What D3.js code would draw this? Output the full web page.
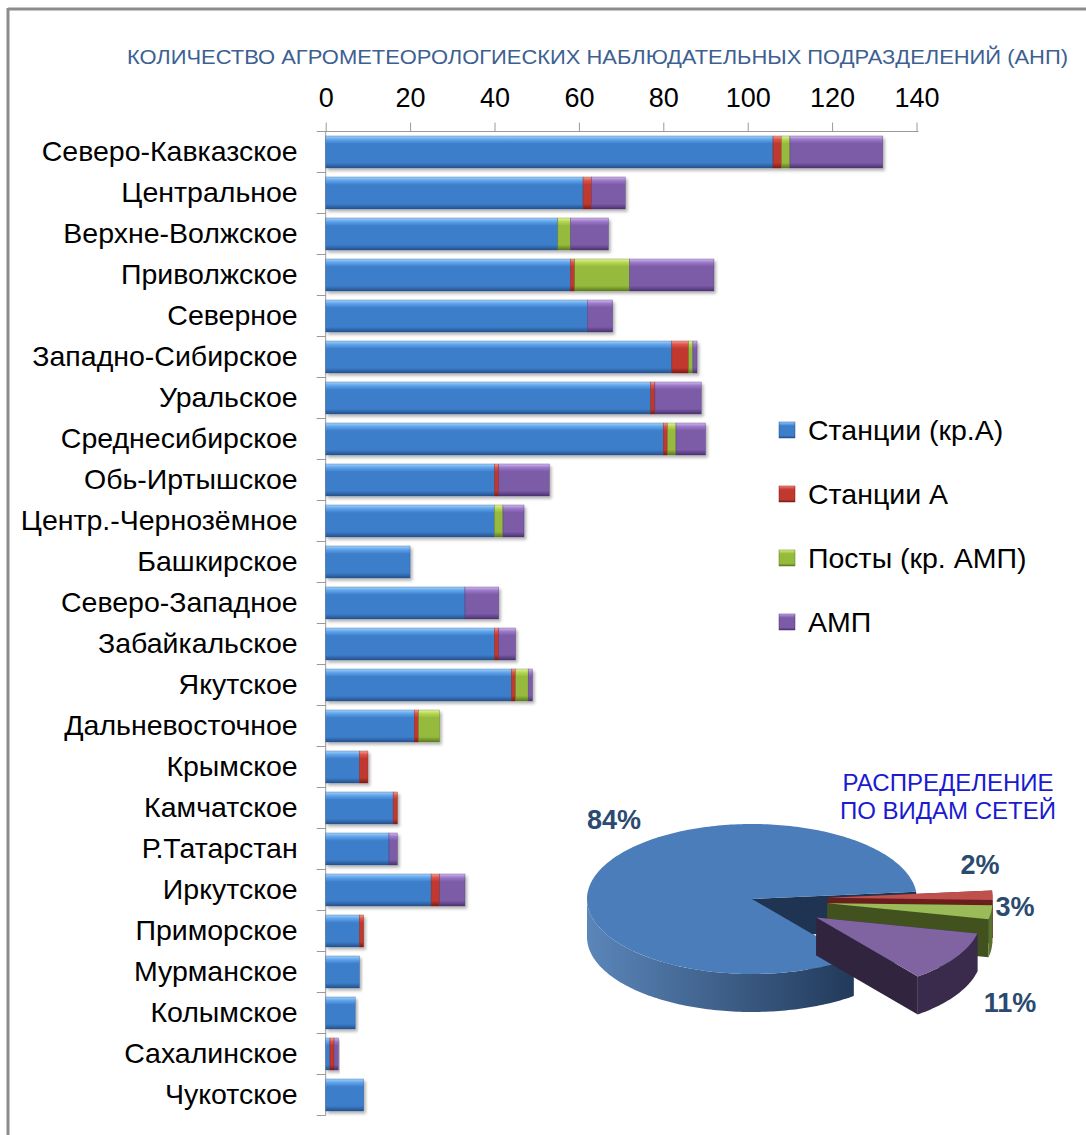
<!DOCTYPE html>
<html lang="ru">
<head>
<meta charset="UTF-8" />
<script src="https://d3js.org/d3.v7.min.js"></script>
<style>
  body { margin: 0; background: #fff; }
  svg { display: block; }
  text { font-family: "Liberation Sans", Arial, sans-serif; }
</style>
</head>
<body>
<div id="chart"></div>
<script>
// categories and series (number of observation units)
const categories = [
  "Северо-Кавказское", "Центральное", "Верхне-Волжское", "Приволжское",
  "Северное", "Западно-Сибирское", "Уральское", "Среднесибирское",
  "Обь-Иртышское", "Центр.-Чернозёмное", "Башкирское", "Северо-Западное",
  "Забайкальское", "Якутское", "Дальневосточное", "Крымское",
  "Камчатское", "Р.Татарстан", "Иркутское", "Приморское",
  "Мурманское", "Колымское", "Сахалинское", "Чукотское"
];
const stationsKr = [106, 61, 55, 58, 62, 82, 77, 80, 40, 40, 20, 33, 40, 44, 21, 8, 16, 15, 25, 8, 8, 7, 1, 9];
const stationsA  = [2, 2, 0, 1, 0, 4, 1, 1, 1, 0, 0, 0, 1, 1, 1, 2, 1, 0, 2, 1, 0, 0, 1, 0];
const posts      = [2, 0, 3, 13, 0, 1, 0, 2, 0, 2, 0, 0, 0, 3, 5, 0, 0, 0, 0, 0, 0, 0, 0, 0];
const amp        = [22, 8, 9, 20, 6, 1, 11, 7, 12, 5, 0, 8, 4, 1, 0, 0, 0, 2, 6, 0, 0, 0, 1, 0];

const seriesNames = ["Станции (кр.А)", "Станции А", "Посты (кр. АМП)", "АМП"];
const xTicks = [0, 20, 40, 60, 80, 100, 120, 140];

const pieLabels = ["84%", "2%", "3%", "11%"];
const pieValues = [84, 2, 3, 11];

const W = 1086, H = 1135;
const svg = d3.select("#chart").append("svg").attr("width", W).attr("height", H);
svg.append("rect").attr("width", W).attr("height", H).attr("fill", "#fff");

// frame
svg.append("line").attr("x1", 8).attr("x2", W).attr("y1", 9).attr("y2", 9)
  .attr("stroke", "#8c8c8c").attr("stroke-width", 3);
svg.append("line").attr("x1", 8).attr("x2", 8).attr("y1", 8).attr("y2", H)
  .attr("stroke", "#8c8c8c").attr("stroke-width", 3);

const defs = svg.append("defs");
const palette = [
  { light: "#a6d4fb", hl: "#64a8ee", main: "#3d7ecb", dark: "#24508a" },
  { light: "#f7a49a", hl: "#e2574e", main: "#c1382f", dark: "#7b1c17" },
  { light: "#e6f5a4", hl: "#b9d957", main: "#95ba3c", dark: "#5b7820" },
  { light: "#d6bcf3", hl: "#9d7ccb", main: "#7c5ba7", dark: "#4a326f" }
];
palette.forEach((c, i) => {
  const g = defs.append("linearGradient").attr("id", "bar" + i)
    .attr("x1", 0).attr("x2", 0).attr("y1", 0).attr("y2", 1);
  [[0, c.light], [0.1, c.hl], [0.24, c.main], [0.84, c.main], [1, c.dark]]
    .forEach(s => g.append("stop").attr("offset", s[0]).attr("stop-color", s[1]));
});
const shadow = defs.append("filter").attr("id", "shadow")
  .attr("x", "-5%").attr("y", "-20%").attr("width", "115%").attr("height", "160%");
shadow.append("feDropShadow").attr("dx", 2).attr("dy", 2.5)
  .attr("stdDeviation", 1.5).attr("flood-color", "#000").attr("flood-opacity", 0.3);

// title
svg.append("text").attr("x", 127).attr("y", 64)
  .attr("textLength", 941).attr("lengthAdjust", "spacingAndGlyphs")
  .attr("font-size", 21).attr("fill", "#3d5f92")
  .text("КОЛИЧЕСТВО АГРОМЕТЕОРОЛОГИЕСКИХ НАБЛЮДАТЕЛЬНЫХ ПОДРАЗДЕЛЕНИЙ (АНП)");

// scales
const x = d3.scaleLinear().domain([0, 140]).range([325.7, 916.5]);
const y = d3.scaleBand().domain(categories).range([131.5, 1115.5])
  .paddingInner(0.22).paddingOuter(0.11);

// top axis
const xAxis = svg.append("g").attr("transform", "translate(0,131.5)")
  .call(d3.axisTop(x).tickValues(xTicks).tickSize(9).tickSizeOuter(0).tickPadding(16));
xAxis.select(".domain").attr("stroke", "#9a9a9a").attr("d", `M317,0H${x(140) + 2}`);
xAxis.selectAll(".tick line").attr("stroke", "#9a9a9a");
xAxis.selectAll(".tick text").attr("font-size", 27).attr("fill", "#000")
  .attr("font-family", "Liberation Sans, Arial, sans-serif");

// left axis (category labels)
const yAxis = svg.append("g").attr("transform", `translate(${x(0)},0)`)
  .call(d3.axisLeft(y).tickSize(0).tickPadding(28));
yAxis.select(".domain").remove();
yAxis.selectAll(".tick text").attr("font-size", 28.5).attr("fill", "#000")
  .attr("font-family", "Liberation Sans, Arial, sans-serif");
svg.append("line").attr("x1", x(0)).attr("x2", x(0))
  .attr("y1", y.range()[0]).attr("y2", y.range()[1]).attr("stroke", "#9a9a9a");
svg.append("g").selectAll("line")
  .data(d3.range(categories.length + 1))
  .join("line")
  .attr("x1", x(0) - 9).attr("x2", x(0))
  .attr("y1", i => y.range()[0] + i * y.step())
  .attr("y2", i => y.range()[0] + i * y.step())
  .attr("stroke", "#9a9a9a");

// stacked bars
const rows = categories.map((c, i) => ({
  name: c, s0: stationsKr[i], s1: stationsA[i], s2: posts[i], s3: amp[i]
}));
const keys = ["s0", "s1", "s2", "s3"];
const stacked = d3.stack().keys(keys)(rows);

const barRows = svg.append("g").selectAll("g")
  .data(rows).join("g").attr("filter", "url(#shadow)");
barRows.each(function (row, ri) {
  const g = d3.select(this);
  stacked.forEach((layer, k) => {
    const seg = layer[ri];
    if (seg[1] - seg[0] <= 0) return;
    g.append("rect")
      .attr("x", x(seg[0]))
      .attr("y", y(row.name))
      .attr("width", x(seg[1]) - x(seg[0]))
      .attr("height", y.bandwidth())
      .attr("fill", `url(#bar${k})`)
      .attr("stroke", palette[k].dark).attr("stroke-width", 0.6).attr("stroke-opacity", 0.6);
  });
});

// legend
const legend = svg.append("g");
seriesNames.forEach((name, i) => {
  const ly = 430 + i * 64;
  legend.append("rect").attr("x", 779).attr("y", ly - 8).attr("width", 16).attr("height", 16)
    .attr("fill", `url(#bar${i})`).attr("stroke", palette[i].dark).attr("stroke-width", 0.5);
  legend.append("text").attr("x", 808).attr("y", ly).attr("dy", "0.35em")
    .attr("font-size", 28.5).attr("font-family", "Noto Sans, Open Sans, sans-serif")
    .attr("fill", "#000").text(name);
});

// 3D pie
const cx = 752, cy = 899, rx = 165, ry = 75, depth = 38;
const explode = [0, 0.46, 0.46, 0.46];
const rot = 52 * Math.PI / 180;  // screen angle (from 3 o'clock, clockwise) of first slice start
const arcs = d3.pie().sort(null)
  .startAngle(rot + Math.PI / 2).endAngle(rot + Math.PI / 2 + 2 * Math.PI)(pieValues);
const pieCols = [
  { top: "#4b7dba", side0: "#5b86ba", side1: "#1f3655", wall: "#1f3452" },
  { top: "#c0504d", side0: "#8a2b28", side1: "#5e1a18", wall: "#6a1e1c" },
  { top: "#9bbb59", side0: "#5a7030", side1: "#3e4f1f", wall: "#42521f" },
  { top: "#8064a2", side0: "#3a2b4c", side1: "#2d2240", wall: "#30243f" }
];
const sideGrad = defs.append("linearGradient").attr("id", "pieSide0")
  .attr("gradientUnits", "userSpaceOnUse")
  .attr("x1", cx - rx).attr("x2", cx + rx * 0.7).attr("y1", 0).attr("y2", 0);
sideGrad.append("stop").attr("offset", 0).attr("stop-color", pieCols[0].side0);
sideGrad.append("stop").attr("offset", 1).attr("stop-color", pieCols[0].side1);

// d3.pie angles are from 12 o'clock clockwise; convert to screen angle from 3 o'clock
const scr = a => a - Math.PI / 2;
const slices = arcs.map((a, i) => {
  const t0 = scr(a.startAngle), t1 = scr(a.endAngle);
  const mid = (t0 + t1) / 2;
  const ox = explode[i] * rx * Math.cos(mid), oy = explode[i] * ry * Math.sin(mid);
  return { i, t0, t1, ox, oy };
});
const pt = (s, t, dz = 0) => [cx + s.ox + rx * Math.cos(t), cy + s.oy + ry * Math.sin(t) + dz];
const arcPts = (s, ta, tb, dz = 0) => {
  const n = Math.max(2, Math.ceil(Math.abs(tb - ta) / 0.02));
  return d3.range(n + 1).map(j => pt(s, ta + (tb - ta) * j / n, dz));
};
const line = d3.line();
const center = (s, dz = 0) => [cx + s.ox, cy + s.oy + dz];

function frontRanges(t0, t1) {
  const out = [];
  for (let k = -2; k <= 2; k++) {
    const a = Math.max(t0, 2 * Math.PI * k), b = Math.min(t1, 2 * Math.PI * k + Math.PI);
    if (b > a) out.push([a, b]);
  }
  return out;
}
const pie = svg.append("g");
function drawSides(s) {
  const c = pieCols[s.i];
  [s.t0, s.t1].forEach(t => {
    pie.append("path")
      .attr("d", line([center(s), pt(s, t), pt(s, t, depth), center(s, depth)]) + "Z")
      .attr("fill", c.wall);
  });
  frontRanges(s.t0, s.t1).forEach(([a, b]) => {
    const pts = arcPts(s, a, b).concat(arcPts(s, b, a, depth));
    pie.append("path").attr("d", line(pts) + "Z")
      .attr("fill", s.i === 0 ? "url(#pieSide0)" : c.side0);
  });
}
function drawTop(s) {
  const pts = [center(s)].concat(arcPts(s, s.t0, s.t1));
  pie.append("path").attr("d", line(pts) + "Z").attr("fill", pieCols[s.i].top);
}
drawSides(slices[0]);
drawTop(slices[0]);
slices.slice(1).forEach(drawSides);
slices.slice(1).forEach(drawTop);

// pie labels
const labelOffsets = [[-138, -79], [228, -34], [263, 8], [258, 104]];
pieLabels.forEach((lab, i) => {
  svg.append("text").attr("x", cx + labelOffsets[i][0]).attr("y", cy + labelOffsets[i][1])
    .attr("dy", "0.35em").attr("text-anchor", "middle")
    .attr("font-size", 27).attr("font-weight", "bold").attr("fill", "#2b4a70").text(lab);
});

// pie title
["РАСПРЕДЕЛЕНИЕ", "ПО ВИДАМ СЕТЕЙ"].forEach((t, i) => {
  svg.append("text").attr("x", 948).attr("y", 783 + i * 28).attr("dy", "0.35em")
    .attr("text-anchor", "middle").attr("font-size", 24).attr("fill", "#1a1ad0").text(t);
});
</script>
</body>
</html>
